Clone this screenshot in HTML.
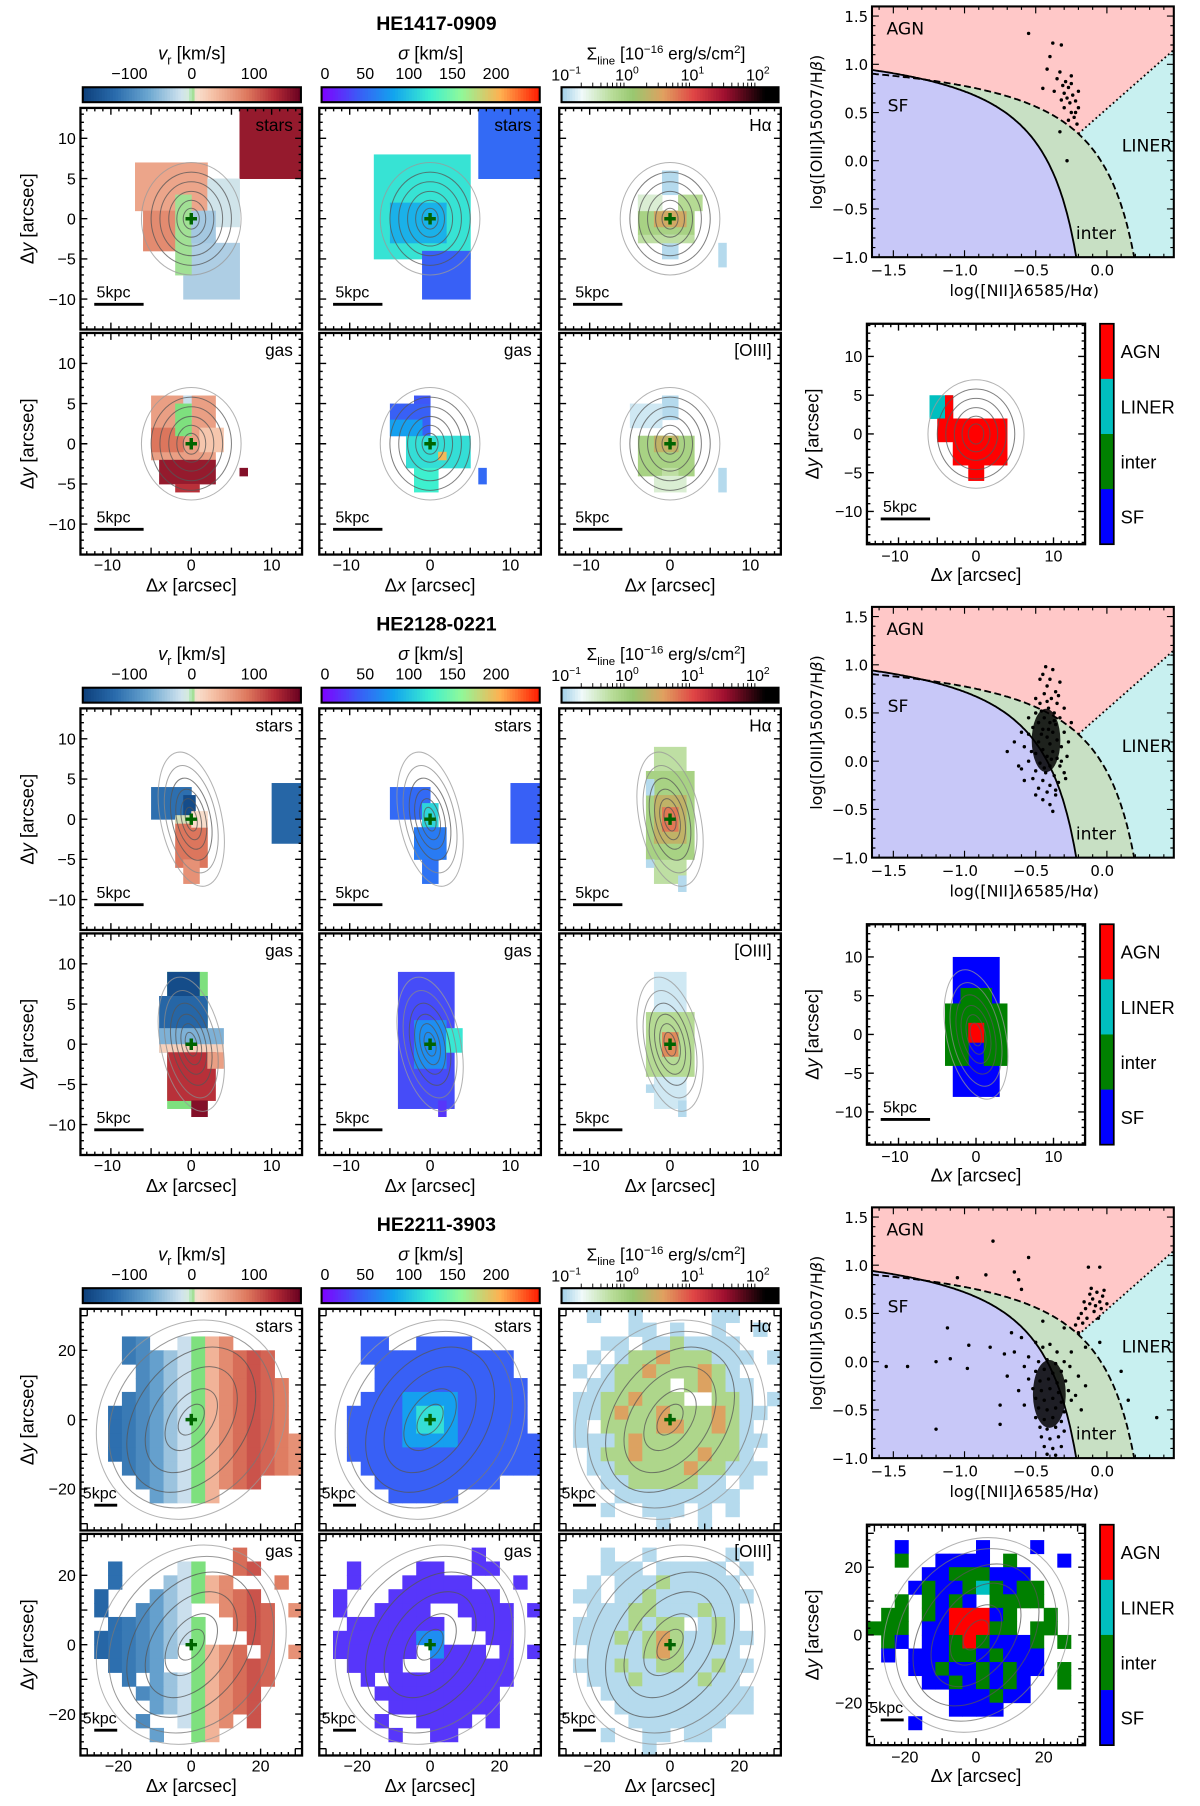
<!DOCTYPE html>
<html><head><meta charset="utf-8"><title>IFU maps and BPT diagrams</title>
<style>
html,body{margin:0;padding:0;background:#fff;}
svg{display:block;}
text{font-family:"Liberation Sans",sans-serif;fill:#000;}
.bpt text{font-family:"DejaVu Sans","Liberation Sans",sans-serif;}
</style></head>
<body>
<svg id="fig" xmlns="http://www.w3.org/2000/svg" width="1200" height="1806" viewBox="0 0 1045 1573"></svg>
<script>
// ---------------- DATA ----------------
const galaxyNames = ['HE1417-0909','HE2128-0221','HE2211-3903'];
const vrTicks = [-100,0,100];
const sigTicks = [0,50,100,150,200];
const fluxTickLabels = ['10','10','10','10'];
const fluxTickExp = ['\u22121','0','1','2'];
const bptXTicks = [-1.5,-1.0,-0.5,0.0];
const bptYTicks = [-1.0,-0.5,0.0,0.5,1.0,1.5];
const classNames = ['AGN','LINER','inter','SF'];

// BPT points per galaxy [log NII/Ha, log OIII/Hb]
const bpt1 = [[-0.55,1.32],[-0.38,1.22],[-0.32,1.2],[-0.4,1.08],[-0.42,0.95],[-0.33,0.92],[-0.35,0.85],[-0.29,0.82],[-0.31,0.78],[-0.27,0.76],[-0.25,0.8],[-0.3,0.7],[-0.28,0.65],[-0.24,0.68],[-0.26,0.6],[-0.22,0.62],[-0.3,0.55],[-0.25,0.5],[-0.2,0.55],[-0.23,0.45],[-0.27,0.42],[-0.21,0.38],[-0.2,0.72],[-0.37,0.72],[-0.45,0.75],[-0.33,0.3],[-0.28,0.0],[-0.25,0.88],[-0.32,0.63],[-0.22,0.5]];
const bpt2 = [[-0.45,0.9],[-0.4,0.85],[-0.38,0.95],[-0.42,0.78],[-0.36,0.72],[-0.44,0.7],[-0.39,0.65],[-0.47,0.6],[-0.35,0.6],[-0.41,0.55],[-0.5,0.5],[-0.37,0.5],[-0.44,0.45],[-0.33,0.45],[-0.48,0.4],[-0.4,0.4],[-0.36,0.38],[-0.52,0.35],[-0.45,0.33],[-0.38,0.3],[-0.3,0.3],[-0.55,0.28],[-0.42,0.25],[-0.35,0.22],[-0.48,0.2],[-0.4,0.18],[-0.32,0.15],[-0.58,0.15],[-0.45,0.12],[-0.38,0.1],[-0.5,0.08],[-0.42,0.05],[-0.35,0.03],[-0.28,0.05],[-0.55,0.0],[-0.47,-0.02],[-0.4,-0.05],[-0.33,-0.05],[-0.6,-0.08],[-0.5,-0.1],[-0.43,-0.12],[-0.37,-0.15],[-0.3,-0.12],[-0.52,-0.18],[-0.45,-0.2],[-0.4,-0.25],[-0.34,-0.22],[-0.48,-0.28],[-0.42,-0.32],[-0.36,-0.35],[-0.45,-0.4],[-0.4,-0.45],[-0.38,-0.52],[-0.65,0.2],[-0.7,0.1],[-0.62,-0.05],[-0.25,0.4],[-0.27,0.2],[-0.3,0.55],[-0.5,0.65],[-0.55,0.45],[-0.6,0.3],[-0.47,0.85],[-0.33,0.82],[-0.43,0.98],[-0.37,0.42],[-0.46,0.28],[-0.41,0.33],[-0.39,0.02],[-0.44,-0.07],[-0.36,-0.3],[-0.5,-0.35],[-0.32,0.0],[-0.53,0.1],[-0.58,-0.2],[-0.29,-0.18],[-0.42,0.62],[-0.46,0.52],[-0.34,0.68]];
const bpt3Sparse = [[-1.55,-0.05],[-1.4,-0.05],[-1.2,0.0],[-1.2,-0.7],[-1.12,0.35],[-1.1,0.03],[-1.05,0.87],[-0.97,0.17],[-0.98,-0.07],[-0.85,0.9],[-0.82,0.15],[-0.75,-0.65],[-0.75,-0.45],[-0.72,0.08],[-0.65,0.93],[-0.62,0.85],[-0.55,1.08],[-0.8,1.25],[-0.6,0.75],[-0.67,0.3],[-0.13,0.98],[-0.05,0.98],[0.35,-0.58],[0.1,-0.1],[0.15,-0.4],[-0.2,0.3],[-0.15,0.15],[-0.05,0.2],[-0.3,0.35],[-0.45,0.42]];
const bpt3Cluster = [[-0.18,0.5],[-0.15,0.55],[-0.12,0.6],[-0.1,0.65],[-0.08,0.58],[-0.05,0.62],[-0.03,0.68],[-0.07,0.72],[-0.12,0.7],[-0.16,0.62],[-0.2,0.45],[-0.14,0.45],[-0.09,0.52],[-0.04,0.55],[0.0,0.6],[-0.02,0.74],[-0.11,0.76],[-0.17,0.4],[-0.22,0.38],[-0.06,0.45]];
const bpt3Core = [[-0.5,0.2],[-0.45,0.15],[-0.4,0.18],[-0.35,0.1],[-0.55,0.05],[-0.48,0.0],[-0.42,0.02],[-0.36,-0.02],[-0.3,0.0],[-0.58,-0.05],[-0.5,-0.1],[-0.44,-0.08],[-0.38,-0.12],[-0.32,-0.1],[-0.26,-0.05],[-0.55,-0.18],[-0.47,-0.2],[-0.41,-0.18],[-0.35,-0.22],[-0.29,-0.2],[-0.52,-0.28],[-0.46,-0.3],[-0.4,-0.28],[-0.34,-0.32],[-0.27,-0.3],[-0.5,-0.38],[-0.44,-0.4],[-0.38,-0.38],[-0.32,-0.42],[-0.25,-0.4],[-0.48,-0.48],[-0.42,-0.5],[-0.36,-0.48],[-0.3,-0.52],[-0.5,-0.58],[-0.44,-0.6],[-0.38,-0.58],[-0.32,-0.62],[-0.47,-0.68],[-0.42,-0.7],[-0.36,-0.68],[-0.3,-0.72],[-0.46,-0.78],[-0.4,-0.8],[-0.34,-0.78],[-0.44,-0.88],[-0.38,-0.9],[-0.32,-0.88],[-0.42,-0.96],[-0.36,-0.97],[-0.6,0.25],[-0.62,-0.3],[-0.58,-0.45],[-0.2,-0.15],[-0.22,-0.35],[-0.18,-0.5],[-0.15,-0.25],[-0.25,0.1],[-0.65,0.1],[-0.7,-0.15]];

// map regions [x1,x2,y1,y2,value] in arcsec
const g1StarsV = [[6,14,5,14,150],[-7,2,1,7,55],[-6,-1,-4,1,75],[2,6,-1,5,-15],[-1,6,-10,-3,-35],[-2,0,-7,3,2],[0,3,-3,1,-40]];
const g1StarsS = [[6,14,5,14,50],[-7,5,-5,8,118],[-5,2,-3,2,90],[-1,5,-10,-4,45]];
const g1Ha = [[-1,1,3,6,0.12],[-4,-2,1,3,0.15],[-4,3,-2,1,0.8],[-2,2,-1,1,2.5],[-4,-1,1,3,0.3],[-1,1,-5,-2,0.12],[-4,3,-3,-2,0.5],[6,7,-6,-3,0.12],[1,4,1,3,0.6]];
const g1GasV = [[-5,3,-2,6,60],[-1,0,3,6,-20],[-5,-1,-1,2,90],[-4,3,-5,-2,150],[6,7,-4,-3,160],[-2,1,-6,-5,130],[1,4,-1,2,30],[-2,0,1,5,0]];
const g1GasS = [[-5,0,1,5,45],[-2,0,5,6,40],[-3,5,-3,1,115],[1,2,-2,-1,200],[6,7,-5,-3,50],[-2,1,-6,-3,125],[-5,-1,1,3,80]];
const g1O3 = [[-1,1,3,6,0.12],[-5,-1,2,5,0.15],[-4,3,-4,1,0.8],[-2,1,-1,1,2],[-1,1,-5,-3,0.5],[6,7,-6,-3,0.12],[-2,2,-6,-4,0.3]];
const g1Class = [[-6,-3,2,5,1],[-4,-3,2,5,0],[-5,-2,-1,2,0],[-3,4,-4,2,0],[-1,1,-6,-4,0]];

const g2StarsV = [[-5,0,0,4,-120],[-1,0.5,-1,3,-160],[-2,2,-6,0,90],[0,2,-1,1,10],[-1,1,-8,-5,70],[-2,0,-0.5,0.5,5],[10,14,-3,4.5,-130]];
const g2StarsS = [[-5,0,0,4,50],[-1,1,-2,2,110],[-2,2,-5,-1,60],[-1,1,-8,-5,55],[10,14,-3,4.5,45]];
const g2Ha = [[-2,2,-8,9,0.5],[-3,3,-5,6,0.8],[-2,2,-3,3,2],[-1,1,-1.5,1.5,5],[-3,-2,-6,-5,0.12],[1,2,-9,-7,0.12],[-3,-2,3,5,0.12]];
const g2GasV = [[-3,2,-8,9,0],[-3,1,6,9,-160],[-4,2,1,6,-130],[-4,4,-1,2,-60],[-4,4,-1,0,20],[-3,3,-7,-1,130],[0,2,-9,-7,160],[2,4,-3,-1,60]];
const g2GasS = [[-4,3,-8,9,35],[-2,2,-3,3,70],[2,4,-1,2,120],[1,2,-9,-7,25]];
const g2O3 = [[-2,2,-8,9,0.15],[-3,3,-4,4,0.6],[-1,1,-1.5,1.5,4],[-3,-2,-6,-5,0.12],[1,2,-9,-7,0.12]];
const g2Class = [[-3,3,-8,10,3],[-4,-1,-4,4,2],[1,4,-4,4,2],[-2,2,-1,6,2],[-1,1,-1,1.5,0]];

// galaxy 3: 4-arcsec grid masks (rows top y=32 -> bottom)
const g3ColV = [-140,-130,-120,-110,-95,-75,-45,-20,0,45,75,95,110,100,85,70];
const g3StarsMask = ["................","................","...##..####.....","...###########..","....##########..","....###########.","...############.","..#############.","..#############.","..##############","..##############","...#############","....#########...",".....#####......","................","................"];
const g3GasMask = ["................","...........#....","..#....##..##...","..#...#####...#.",".#...########...",".#..####..####.#","..#######..###..",".########...##..",".######.####.#.#","..####..######..","...#.#########..","....#########...",".....########...","....#..####.#...",".....#..##......","................"];
const g3HaMask = ["..b..b.....bb...",".....bb.b..b..b.","...bb.bbgbbbb...","..b.bggrgggbbb.b",".b.bggrgggrgb...","..bbgggg.grgbb..",".bbggrggg..ggb.b",".bbgrggrgggrgbb.",".b.ggggrrggrgb..",".bbbgrgggggggbb.","..bggrggggrggb..","..bbgggggrggbbb.","...bbgggggbb.b..","....bbbbbbbbb...","...b..bbb.b.b...",".......b..b....."];
const g3O3Mask = ["................","...b..b.....b...","...bbb.bbbbb.b..","..b.bbbgbbbbb...",".bb.bbgbbbbbbb..","..bbbggbbbgbb...",".bbbbgbgg.bgb...",".bbbgbgrgbbgbb..","..bbbbgrgbbbb...",".bbbgbbggbbgbb..","..bbbgbbbbgbb...","...bbbbbbbbbbb..","....bbbbbbbbbb..",".....bbbbbbb....","...b..bb.bb.....","......b........."];
const g3ClassMask = ["................","..B.....B...B...","..G..BBBB.G...B.","....BBGGGBBB....","...BGBBGCGBGG...","..G.GBGB.GGGG...",".GG.GBRRRBG..G..","GGG.BBRRRGG.GG..",".GB.BBGRGBBBG.G.",".B.BBBGGBGBBB...","...BBGBBGBGBB.G.","....BBGBGBGB..G.","......BBBGBB....","......BBBB......","...B............","................"];
const fluxCodes = {b:0.12, g:0.7, r:3};
const classCodes = {R:0, C:1, G:2, B:3};

// ---------------- HELPERS ----------------
const NS='http://www.w3.org/2000/svg';
const svg=document.getElementById('fig');
function mk(tag,parent){const e=document.createElementNS(NS,tag);parent.appendChild(e);return e;}
function at(e,o){for(const k in o)e.setAttribute(k,o[k]);return e;}
function txt(p,x,y,s,size,anchor,extra){const t=mk('text',p);at(t,{x:x,y:y,'font-size':size,'text-anchor':anchor||'middle'});if(extra)at(t,extra);t.textContent=s;return t;}
function hex(h){return [parseInt(h.substr(1,2),16),parseInt(h.substr(3,2),16),parseInt(h.substr(5,2),16)];}
function interp(stops,t){t=Math.max(0,Math.min(1,t));for(let i=1;i<stops.length;i++){if(t<=stops[i][0]){const a=stops[i-1],b=stops[i];const f=(t-a[0])/(b[0]-a[0]||1);const ca=hex(a[1]),cb=hex(b[1]);return 'rgb('+ca.map((v,j)=>Math.round(v+(cb[j]-v)*f)).join(',')+')';}}return stops[stops.length-1][1];}
const vrStops=[[0,'#0d3f7a'],[0.15,'#2a6cad'],[0.3,'#6ba6d0'],[0.45,'#cfe2ee'],[0.49,'#d6ecd9'],[0.5,'#7ee07e'],[0.52,'#f8e0d0'],[0.6,'#f5c0a5'],[0.75,'#de7a5f'],[0.88,'#b52b36'],[1,'#670020']];
const sigStops=[[0,'#8000ff'],[0.17,'#3a5cf6'],[0.33,'#12a4ee'],[0.5,'#3ef0cf'],[0.64,'#90f89a'],[0.82,'#ffb050'],[1,'#ff1a00']];
const fluxStops=[[0,'#a0cfe8'],[0.1,'#f0fafa'],[0.25,'#b8dc98'],[0.35,'#98c870'],[0.5,'#e0a060'],[0.65,'#e04545'],[0.8,'#a01030'],[1,'#000000']];
const classColors=['#ff0000','#00bfbf','#008000','#0000ff'];
function cVr(v){return interp(vrStops,(v+175)/350);}
function cSig(v){return interp(sigStops,v/250);}
function cFlux(v){return interp(fluxStops,(Math.log10(v)+1)/3);}
function cClass(v){return classColors[v];}

let clipId=0;
const colX=[70,278,487], rowY=[94,290], PW=193;

function maskToRegions(mask,valFn){const out=[];mask.forEach((row,r)=>{for(let c=0;c<row.length;c++){const ch=row[c];if(ch==='.')continue;const x1=-32+c*4,y2=32-r*4;out.push([x1,x1+4,y2-4,y2,valFn(ch,c,r)]);}});return out;}

function frameTicks(g,x0,y0,w,h,cx,cy,sc,major,minor,lim){
  const p=mk('path',g);let d='';
  for(let v=-lim;v<=lim+1e-6;v+=minor){const isM=Math.abs(v/major-Math.round(v/major))<1e-6;const L=isM?6:3;
    const px=cx+v*sc, py=cy-v*sc;
    if(px>x0+1&&px<x0+w-1){d+=`M${px},${y0+h}v${-L}M${px},${y0}v${L}`;}
    if(py>y0+1&&py<y0+h-1){d+=`M${x0},${py}h${L}M${x0+w},${py}h${-L}`;}}
  at(p,{d:d,stroke:'#000','stroke-width':1.2,fill:'none'});
  
  
  const r=mk('rect',g);at(r,{x:x0,y:y0,width:w,height:h,fill:'none',stroke:'#000','stroke-width':2});
  
  
}

function contours(g,cx,cy,sc,set){
  set.forEach(e=>{const el=mk('ellipse',g);at(el,{cx:cx,cy:cy,rx:e[0]*sc,ry:e[1]*sc,fill:'none',stroke:e[2]||'#555','stroke-width':0.9,opacity:0.75,transform:`rotate(${e[3]||0} ${cx} ${cy})`});
    
    });
}

function mapPanel(g,x0,y0,w,h,sc,regions,cmap,opts){
  const cx=x0+w/2, cy=y0+h/2;
  const id='clip'+(clipId++);
  const cp=mk('clipPath',g);at(cp,{id:id});const cr=mk('rect',cp);at(cr,{x:x0,y:y0,width:w,height:h});
  const inner=mk('g',g);at(inner,{'clip-path':`url(#${id})`});
  
  
  regions.forEach(r=>{const rc=mk('rect',inner);at(rc,{x:cx+r[0]*sc,y:cy-r[3]*sc,width:(r[1]-r[0])*sc+0.4,height:(r[3]-r[2])*sc+0.4,fill:cmap(r[4])});
    
    });
  contours(inner,cx,cy,sc,opts.contours);
  if(opts.cross!==false){const pl=mk('path',inner);at(pl,{d:`M${cx-5},${cy}h10M${cx},${cy-5}v10`,stroke:'#006400','stroke-width':3});
    
    }
  if(opts.label){const t=txt(g,x0+w-8,y0+20,opts.label,15,'end');
    
    }
  const sb=mk('path',g);at(sb,{d:`M${x0+12},${y0+h-22}h${opts.barLen}`,stroke:'#000','stroke-width':2.5});
  
  
  const st=txt(g,x0+(opts.barLen<30?2:14),y0+h-28,'5kpc',14,'start');
  
  
  frameTicks(g,x0,y0,w,h,cx,cy,sc,opts.major,opts.minor,opts.lim);
  return {cx,cy};
}

function colorbar(g,x1,x2,y,cmap,lo,hi,log,name){
  const gr=mk('g',g);
  
  
  const n=80;for(let i=0;i<n;i++){const t=(i+0.5)/n;const v=log?Math.pow(10,lo+t*(hi-lo)):lo+t*(hi-lo);const r=mk('rect',gr);at(r,{x:x1+(x2-x1)*i/n,y:y,width:(x2-x1)/n+0.5,height:13,fill:cmap(v)});}
  const b=mk('rect',gr);at(b,{x:x1,y:y,width:x2-x1,height:13,fill:'none',stroke:'#000','stroke-width':1.8});
}

function drawBlock(bi,off,cfg){
  const g=mk('g',svg);
  
  
  const t=txt(g,380,off+26,galaxyNames[bi],17,'middle',{'font-weight':'bold'});
  
  
  colorbar(g,72,262,off+76,cVr,-175,175,false,'velocity-colorbar');
  colorbar(g,280,470,off+76,cSig,0,250,false,'dispersion-colorbar');
  colorbar(g,489,678,off+76,cFlux,-1,2.2,true,'flux-colorbar');
  let tt=txt(g,167,off+52,'',16);tt.innerHTML='<tspan font-style="italic">v</tspan><tspan font-size="11" dy="4">r</tspan><tspan dy="-4"> [km/s]</tspan>';
  
  
  vrTicks.forEach(v=>{const x=72+(v+175)/350*190;const l=txt(g,x,off+69,v<0?'\u2212'+(-v):String(v),14);});
  tt=txt(g,375,off+52,'',16);tt.innerHTML='<tspan font-style="italic">σ</tspan> [km/s]';
  
  
  sigTicks.forEach(v=>{const x=280+v/250*190;const l=txt(g,x+(v===0?3:0),off+69,String(v),14);});
  tt=txt(g,580,off+52,'',15);tt.innerHTML='Σ<tspan font-size="10" dy="4">line</tspan><tspan dy="-4"> [10</tspan><tspan font-size="10" dy="-6">−16</tspan><tspan dy="6"> erg/s/cm</tspan><tspan font-size="10" dy="-6">2</tspan><tspan dy="6">]</tspan>';
  
  
  fluxTickLabels.forEach((s,i)=>{const x=489+i*57+(i===0?4:0);const l=txt(g,x,off+70,'',14);l.innerHTML=s+'<tspan font-size="9" dy="-6">'+fluxTickExp[i]+'</tspan>';});
  const mt=mk('path',g);let d='';for(let dec=0;dec<3;dec++)for(let k=2;k<=9;k++){const x=489+(dec+Math.log10(k))*57;d+=`M${x},${off+76}v-4`;}
  at(mt,{d:d,stroke:'#000','stroke-width':0.8});
  const panels=[[cfg.sv,cVr,'stars','velocity-stars-map'],[cfg.ss,cSig,'stars','dispersion-stars-map'],[cfg.ha,cFlux,'H\u03b1','halpha-flux-map'],[cfg.gv,cVr,'gas','velocity-gas-map'],[cfg.gs,cSig,'gas','dispersion-gas-map'],[cfg.o3,cFlux,'[OIII]','oiii-flux-map']];
  panels.forEach((p,i)=>{const c=i%3,r=Math.floor(i/3);
    mapPanel(g,colX[c],off+rowY[r],PW,PW,cfg.sc,p[0],p[1],{label:p[2],name:p[3],contours:cfg.cont,barLen:cfg.bar,major:cfg.major,minor:cfg.minor,lim:cfg.lim});});
  for(let r=0;r<2;r++){const cy=off+rowY[r]+PW/2;
    cfg.yt.forEach(v=>{const l=txt(g,66,cy-v*cfg.sc+5,v<0?'\u2212'+(-v):String(v),14,'end');});
    const yl=txt(g,0,0,'',16);yl.innerHTML='Δ<tspan font-style="italic">y</tspan> [arcsec]';at(yl,{transform:`translate(29,${cy}) rotate(-90)`});
    
    }
  colX.forEach(x0=>{const cx=x0+PW/2;
    cfg.xt.forEach(v=>{const l=txt(g,cx+v*cfg.sc-(v<0?3:0),off+497,v<0?'\u2212'+(-v):String(v),14);});
    const xl=txt(g,cx,off+515,'',16);xl.innerHTML='Δ<tspan font-style="italic">x</tspan> [arcsec]';
    
    });
}

function bptX(v){return 964+v*124;}
function bptY(v,off){return off+140-v*84;}
function kauff(x){return 0.61/(x-0.05)+1.3;}
function kew(x){return 0.61/(x-0.47)+1.19;}
function drawBPT(off,pointSets,core,scl){
  const g=mk('g',svg);at(g,{class:'bpt'});
  
  
  const X0=-1.65,X1=0.47,Y0=-1,Y1=1.6;
  const bg=mk('rect',g);at(bg,{x:bptX(X0),y:bptY(Y1,off),width:bptX(X1)-bptX(X0),height:bptY(Y0,off)-bptY(Y1,off),fill:'#ffc8c8'});
  
  
  const P=(x,y)=>bptX(x).toFixed(1)+','+bptY(Math.min(Y1,y),off).toFixed(1);
  const kaEnd=0.05+0.61/(Y0-1.3), keEnd=0.47+0.61/(Y0-1.19);
  const xi=-0.2, yi=kew(-0.2);
  let pts=[];for(let x=xi;x<=keEnd;x+=0.01)pts.push(P(x,kew(x)));pts.push(P(keEnd,Y0),P(X1,Y0),P(X1,1.15));
  let pg=mk('polygon',g);at(pg,{points:pts.join(' '),fill:'#c8f0f0'});
  
  
  pts=[];for(let x=X0;x<=keEnd;x+=0.01)pts.push(P(x,kew(x)));pts.push(P(keEnd,Y0));pts.push(P(kaEnd,Y0));for(let x=kaEnd;x>=X0;x-=0.01)pts.push(P(x,kauff(x)));
  pg=mk('polygon',g);at(pg,{points:pts.join(' '),fill:'#c8e0c4'});
  
  
  pts=[];for(let x=X0;x<=kaEnd;x+=0.01)pts.push(P(x,kauff(x)));pts.push(P(kaEnd,Y0),P(X0,Y0));
  pg=mk('polygon',g);at(pg,{points:pts.join(' '),fill:'#c8c8f8'});
  
  
  let d='M';for(let x=X0;x<=kaEnd;x+=0.01)d+=P(x,kauff(x))+' L';d+=P(kaEnd,Y0);
  let ln=mk('path',g);at(ln,{d:d,fill:'none',stroke:'#000','stroke-width':1.6});
  
  
  d='M';for(let x=X0;x<=keEnd;x+=0.01)d+=P(x,kew(x))+' L';d+=P(keEnd,Y0);
  ln=mk('path',g);at(ln,{d:d,fill:'none',stroke:'#000','stroke-width':1.6,'stroke-dasharray':'6,3'});
  
  
  ln=mk('path',g);at(ln,{d:'M'+P(xi,yi)+' L'+P(X1,1.15),fill:'none',stroke:'#000','stroke-width':1.6,'stroke-dasharray':'1.5,2.5'});
  
  
  const lab=[['AGN',772,off+30,'#ff1a1a'],['SF',773,off+97,'#2020ff'],['LINER',977,off+132,'#10c0c0'],['inter',937,off+208,'#108010']];
  lab.forEach(l=>{const t=txt(g,l[1],l[2],l[0],15,'start',{fill:l[3]});});
  if(core){const mx=core.reduce((s,p)=>s+p[0],0)/core.length,my=core.reduce((s,p)=>s+p[1],0)/core.length;
    const sx=Math.sqrt(core.reduce((s,p)=>s+(p[0]-mx)**2,0)/core.length),sy=Math.sqrt(core.reduce((s,p)=>s+(p[1]-my)**2,0)/core.length);
    const e=mk('ellipse',g);at(e,{cx:bptX(mx),cy:bptY(my,off),rx:sx*124*scl[0],ry:sy*84*scl[1],fill:'#000',opacity:0.85});
    
    }
  pointSets.forEach(set=>set.forEach(p=>{if(p[1]>Y1||p[1]<Y0)return;const c=mk('circle',g);at(c,{cx:bptX(p[0]),cy:bptY(p[1],off),r:1.5,fill:'#000'});
    
    }));
  const fr=mk('rect',g);at(fr,{x:bptX(X0),y:bptY(Y1,off),width:bptX(X1)-bptX(X0),height:bptY(Y0,off)-bptY(Y1,off),fill:'none',stroke:'#000','stroke-width':1.8});
  
  
  let td='';
  bptXTicks.forEach(v=>{const x=bptX(v);td+=`M${x},${bptY(Y0,off)}v-6M${x},${bptY(Y1,off)}v6`;const l=txt(g,x-4,off+240,v<0?'\u2212'+(-v).toFixed(1):v.toFixed(1),13);});
  bptYTicks.forEach(v=>{const y=bptY(v,off);td+=`M${bptX(X0)},${y}h6M${bptX(X1)},${y}h-6`;const l=txt(g,756,y+5,v<0?'\u2212'+(-v).toFixed(1):v.toFixed(1),13,'end');});
  for(let v=-1.6;v<=0.45;v+=0.1){const x=bptX(v);td+=`M${x},${bptY(Y0,off)}v-3M${x},${bptY(Y1,off)}v3`;}
  for(let v=-1;v<=1.6;v+=0.1){const y=bptY(v,off);td+=`M${bptX(X0)},${y}h3M${bptX(X1)},${y}h-3`;}
  const tp=mk('path',g);at(tp,{d:td,stroke:'#000','stroke-width':1});
  
  
  let xl=txt(g,892,off+258,'',14);xl.innerHTML='log([NII]<tspan font-style="italic">λ</tspan>6585/H<tspan font-style="italic">α</tspan>)';
  
  
  let yl=txt(g,0,0,'',14);yl.innerHTML='log([OIII]<tspan font-style="italic">λ</tspan>5007/H<tspan font-style="italic">β</tspan>)';at(yl,{transform:`translate(716,${off+115}) rotate(-90)`});
  
  
}

function drawClassMap(off,regions,cfg){
  const g=mk('g',svg);
  
  
  const x0=755,y0=off+282,w=190,h=192;
  mapPanel(g,x0,y0,w,h,cfg.sc,regions,cClass,{name:'class-map-cells',contours:cfg.cont,barLen:cfg.bar,major:cfg.major,minor:cfg.minor,lim:cfg.lim,cross:false});
  const cx=x0+w/2,cy=y0+h/2;
  cfg.xt.forEach(v=>{const l=txt(g,cx+v*cfg.sc-(v<0?3:0),off+489,v<0?'\u2212'+(-v):String(v),14);});
  cfg.yt.forEach(v=>{const l=txt(g,751,cy-v*cfg.sc+5,v<0?'\u2212'+(-v):String(v),14,'end');});
  let xl=txt(g,cx,off+506,'',16);xl.innerHTML='Δ<tspan font-style="italic">x</tspan> [arcsec]';
  
  
  let yl=txt(g,0,0,'',16);yl.innerHTML='Δ<tspan font-style="italic">y</tspan> [arcsec]';at(yl,{transform:`translate(713,${cy}) rotate(-90)`});
  
  
  classColors.forEach((c,i)=>{const r=mk('rect',g);at(r,{x:958,y:y0+i*h/4,width:12,height:h/4+0.3,fill:c});
    
    
    const l=txt(g,976,y0+i*h/4+h/8+6,classNames[i],16,'start');
    
    });
  const b=mk('rect',g);at(b,{x:958,y:y0,width:12,height:h,fill:'none',stroke:'#000','stroke-width':1.5});
}

// ---------------- BUILD ----------------
const cont1=[[1,1.3],[1.8,2.3],[2.8,3.4],[3.9,4.6],[5,5.8],[6.2,7,'#999']];
const cont2=[[0.7,1.5,'#555',-12],[1.2,2.6,'#555',-12],[1.8,3.8,'#555',-12],[2.4,5.2,'#555',-12],[3.1,6.8,'#888',-12],[3.8,8.5,'#999',-12]];
const cont3=[[3,5,'#555',35],[6,10,'#555',35],[11,17,'#555',35],[16,23,'#555',35],[22,27,'#777',35],[26,30,'#999',35]];
const cfgA={sc:7,bar:43,major:5,minor:1,lim:14,xt:[-10,0,10],yt:[10,5,0,-5,-10]};
const cfgC={sc:3.02,bar:20,major:10,minor:2,lim:32,xt:[-20,0,20],yt:[20,0,-20]};

drawBlock(0,0,Object.assign({},cfgA,{cont:cont1,sv:g1StarsV,ss:g1StarsS,ha:g1Ha,gv:g1GasV,gs:g1GasS,o3:g1O3}));
drawBlock(1,523,Object.assign({},cfgA,{cont:cont2,sv:g2StarsV,ss:g2StarsS,ha:g2Ha,gv:g2GasV,gs:g2GasS,o3:g2O3}));
drawBlock(2,1046,Object.assign({},cfgC,{cont:cont3,
  sv:maskToRegions(g3StarsMask,(ch,c)=>g3ColV[c]),
  ss:maskToRegions(g3StarsMask,(ch,c,r)=>(Math.abs(c-7.5)<1&&Math.abs(r-7.5)<1)?115:(Math.abs(c-7.5)<2&&Math.abs(r-7.5)<2?80:45)),
  ha:maskToRegions(g3HaMask,ch=>fluxCodes[ch]),
  gv:maskToRegions(g3GasMask,(ch,c)=>g3ColV[c]),
  gs:maskToRegions(g3GasMask,(ch,c,r)=>(Math.abs(c-7.5)<1&&Math.abs(r-7.5)<1)?70:25),
  o3:maskToRegions(g3O3Mask,ch=>fluxCodes[ch])}));

drawBPT(0,[bpt1],null,null);
drawBPT(523,[bpt2],bpt2,[1.1,0.9]);
drawBPT(1046,[bpt3Sparse,bpt3Cluster,bpt3Core],bpt3Core,[1.0,1.1]);

drawClassMap(0,g1Class,Object.assign({},cfgA,{sc:6.75,cont:cont1}));
drawClassMap(523,g2Class,Object.assign({},cfgA,{sc:6.75,cont:cont2}));
drawClassMap(1046,maskToRegions(g3ClassMask,ch=>classCodes[ch]),Object.assign({},cfgC,{sc:2.95,cont:cont3}));
</script>
</body></html>
